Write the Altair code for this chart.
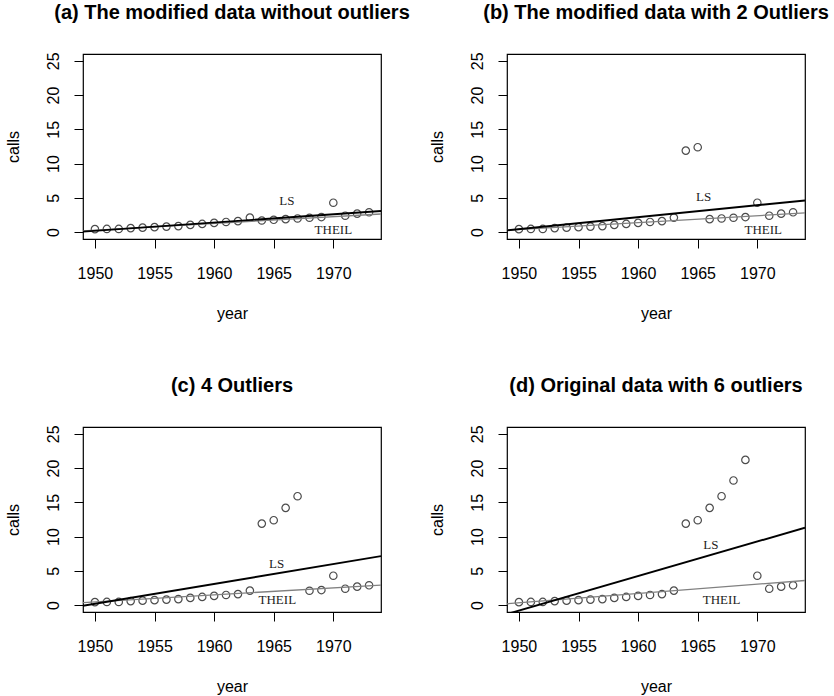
import altair as alt
import pandas as pd

# Belgian telephone calls (tens of millions), 1950-1973
years = list(range(1950, 1974))
calls_a = [0.44, 0.47, 0.47, 0.59, 0.66, 0.73, 0.81, 0.88, 1.06, 1.20, 1.35, 1.49,
           1.61, 2.12, 1.70, 1.80, 1.90, 2.00, 2.10, 2.20, 4.30, 2.40, 2.70, 2.90]
calls_b = [0.44, 0.47, 0.47, 0.59, 0.66, 0.73, 0.81, 0.88, 1.06, 1.20, 1.35, 1.49,
           1.61, 2.12, 11.90, 12.40, 1.90, 2.00, 2.10, 2.20, 4.30, 2.40, 2.70, 2.90]
calls_c = [0.44, 0.47, 0.47, 0.59, 0.66, 0.73, 0.81, 0.88, 1.06, 1.20, 1.35, 1.49,
           1.61, 2.12, 11.90, 12.40, 14.20, 15.90, 2.10, 2.20, 4.30, 2.40, 2.70, 2.90]
calls_d = [0.44, 0.47, 0.47, 0.59, 0.66, 0.73, 0.81, 0.88, 1.06, 1.20, 1.35, 1.49,
           1.61, 2.12, 11.90, 12.40, 14.20, 15.90, 18.20, 21.20, 4.30, 2.40, 2.70, 2.90]

titles = [
    "(a) The modified data without outliers",
    "(b) The modified data with 2 Outliers",
    "(c) 4 Outliers",
    "(d) Original data with 6 outliers",
]

# fitted lines, evaluated at the edges of the x range
line_x = [1949, 1974]
ls_y0 = [0.08, 0.26, -0.08, -1.30]
ls_y1 = [3.08, 4.63, 7.15, 11.30]
theil_y0 = [0.20, 0.30, 0.38, 0.20]
theil_y1 = [2.65, 2.80, 2.93, 3.60]

# label positions for the two fitted lines
ls_lab_x = [1966.1, 1965.5, 1965.25, 1966.1]
ls_lab_y = [4.55, 5.1, 5.95, 8.8]
theil_lab_x = [1970.0, 1970.5, 1965.3, 1967.0]
theil_lab_y = [0.35, 0.35, 0.7, 0.7]

x_ticks = [1950, 1955, 1960, 1965, 1970]
y_ticks = [0, 5, 10, 15, 20, 25]

PLOT_W = 298
PLOT_H = 185
SANS = "Liberation Sans"
SERIF = "Liberation Serif"

x_scale = alt.Scale(domain=[1949, 1974], nice=False, zero=False)
y_scale = alt.Scale(domain=[-1, 26], nice=False, zero=False)

x_axis = alt.Axis(values=x_ticks, format="d", title="year",
                  labelPadding=17, titlePadding=24,
                  labelOverlap=False, labelFlush=False)
y_axis = alt.Axis(values=y_ticks, title="calls",
                  labelAngle=270, labelAlign="center",
                  labelBaseline="alphabetic", labelPadding=16,
                  labelOverlap=False, labelFlush=False,
                  titlePadding=24)


def panel(i, calls):
    pts = pd.DataFrame({"year": years, "calls": calls})
    fits = pd.DataFrame({
        "fit": ["LS", "THEIL"],
        "x0": [line_x[0], line_x[0]],
        "x1": [line_x[1], line_x[1]],
        "y0": [ls_y0[i], theil_y0[i]],
        "y1": [ls_y1[i], theil_y1[i]],
    })
    labels = pd.DataFrame({
        "text": ["LS", "THEIL"],
        "x": [ls_lab_x[i], theil_lab_x[i]],
        "y": [ls_lab_y[i], theil_lab_y[i]],
    })

    points = alt.Chart(pts).mark_point(
        shape="circle", filled=False, color="black", size=55, strokeWidth=1.2
    ).encode(
        x=alt.X("year:Q", scale=x_scale, axis=x_axis),
        y=alt.Y("calls:Q", scale=y_scale, axis=y_axis),
    )

    ls_line = alt.Chart(fits).transform_filter(alt.datum.fit == "LS").mark_rule(
        color="black", strokeWidth=1.9, clip=True
    ).encode(
        x=alt.X("x0:Q", scale=x_scale, axis=x_axis), x2="x1:Q",
        y=alt.Y("y0:Q", scale=y_scale, axis=y_axis), y2="y1:Q",
    )
    theil_line = alt.Chart(fits).transform_filter(alt.datum.fit == "THEIL").mark_rule(
        color="#808080", strokeWidth=1.3, clip=True
    ).encode(
        x=alt.X("x0:Q", scale=x_scale, axis=x_axis), x2="x1:Q",
        y=alt.Y("y0:Q", scale=y_scale, axis=y_axis), y2="y1:Q",
    )
    text = alt.Chart(labels).mark_text(
        font=SERIF, fontSize=13, color="#222222", baseline="middle", align="center"
    ).encode(
        x=alt.X("x:Q", scale=x_scale, axis=x_axis),
        y=alt.Y("y:Q", scale=y_scale, axis=y_axis),
        text="text:N",
    )

    return alt.layer(points, theil_line, ls_line, text).properties(
        width=PLOT_W, height=PLOT_H,
        title=alt.TitleParams(titles[i], fontSize=20, fontWeight="bold", font=SANS,
                              color="black", frame="group", anchor="middle",
                              offset=29),
    )


chart = alt.concat(
    panel(0, calls_a), panel(1, calls_b), panel(2, calls_c), panel(3, calls_d),
    columns=2, spacing={"row": 188, "column": 126}, bounds="flush",
).properties(
    padding={"left": 4, "top": 2, "right": 2, "bottom": 0},
    background="white",
).configure_view(
    stroke="black", strokeWidth=1.2
).configure_axis(
    grid=False, domain=False, tickColor="black", tickSize=9, tickWidth=1,
    labelFont=SANS, labelFontSize=16, labelColor="black",
    titleFont=SANS, titleFontSize=16, titleFontWeight="normal", titleColor="black",
)

chart.save("out.html", embed_options={"renderer": "svg", "actions": False})
